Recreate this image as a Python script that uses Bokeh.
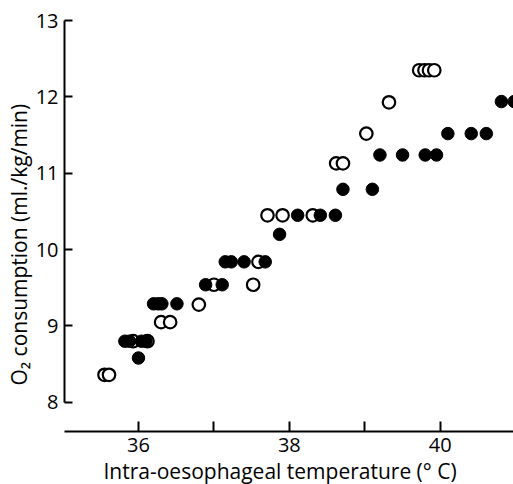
from bokeh.plotting import figure
from bokeh.models import Range1d, FixedTicker, Title
from bokeh.embed import file_html
from bokeh.resources import INLINE

# Open circles
open_temp = [35.55, 35.61, 35.93, 36.12, 36.30, 36.42, 36.80, 37.00, 37.52,
             37.59, 37.71, 37.91, 38.31, 38.62, 38.71, 39.02, 39.32,
             39.72, 39.79, 39.85, 39.92]
open_o2 = [8.36, 8.36, 8.80, 8.80, 9.05, 9.05, 9.28, 9.54, 9.54,
           9.84, 10.45, 10.45, 10.45, 11.13, 11.13, 11.52, 11.93,
           12.35, 12.35, 12.35, 12.35]

# Filled circles
filled_temp = [35.82, 35.88, 36.04, 36.10, 36.00, 36.20, 36.26, 36.31, 36.51,
               36.89, 37.11, 37.15, 37.23, 37.40, 37.68, 37.87, 38.11, 38.41,
               38.61, 38.71, 39.10, 39.20, 39.50, 39.80, 39.95, 40.10, 40.41,
               40.61, 40.81, 40.98]
filled_o2 = [8.80, 8.80, 8.80, 8.80, 8.58, 9.29, 9.29, 9.29, 9.29,
             9.54, 9.54, 9.84, 9.84, 9.84, 9.84, 10.20, 10.45, 10.45,
             10.45, 10.79, 10.79, 11.24, 11.24, 11.24, 11.24, 11.52, 11.52,
             11.52, 11.94, 11.94]

x_ticks = [35, 36, 37, 38, 39, 40, 41]
x_labels = {35: "", 36: "36", 37: "", 38: "38", 39: "", 40: "40", 41: ""}
y_ticks = [8, 9, 10, 11, 12, 13]
x_title = "Intra-oesophageal temperature (° C)"
y_title = "O₂ consumption (ml./kg/min)"

FONT = "Open Sans"

p = figure(width=513, height=484, output_backend="svg", toolbar_location=None,
           x_range=Range1d(35.02, 40.97), y_range=Range1d(7.617, 13.133),
           min_border_left=64, min_border_right=0, min_border_top=10,
           min_border_bottom=52)
p.outline_line_color = None
p.grid.visible = False
p.background_fill_color = "white"
p.border_fill_color = "white"

p.scatter(open_temp, open_o2, size=12.5, marker="circle", fill_color="white",
          line_color="black", line_width=2.2)
p.scatter(filled_temp, filled_o2, size=12.5, marker="circle", fill_color="black",
          line_color="black", line_width=1)

xa = p.xaxis[0]
xa.ticker = FixedTicker(ticks=x_ticks)
xa.major_label_overrides = x_labels
xa.bounds = (35, 41)
xa.major_label_text_font = FONT
xa.major_label_text_font_size = "20px"
xa.major_label_text_color = "black"
xa.major_label_standoff = 6
xa.major_tick_in = 10
xa.major_tick_out = 0
xa.minor_tick_line_color = None
xa.axis_line_width = 2
xa.major_tick_line_width = 2

ya = p.yaxis[0]
ya.ticker = FixedTicker(ticks=y_ticks)
ya.bounds = (8, 13)
ya.major_label_text_font = FONT
ya.major_label_text_font_size = "20px"
ya.major_label_text_color = "black"
ya.major_label_standoff = 6
ya.major_tick_in = 8
ya.major_tick_out = 0
ya.minor_tick_line_color = None
ya.axis_line_width = 2
ya.major_tick_line_width = 2

xt = Title(text=x_title, text_font=FONT, text_font_size="21px",
           text_font_style="normal", text_color="black", align="left",
           offset=39, standoff=0)
yt = Title(text=y_title, text_font=FONT, text_font_size="21px",
           text_font_style="normal", text_color="black", align="left",
           offset=46, standoff=0)
p.add_layout(xt, "below")
p.add_layout(yt, "left")

open("out.html", "w").write(file_html(p, INLINE))
